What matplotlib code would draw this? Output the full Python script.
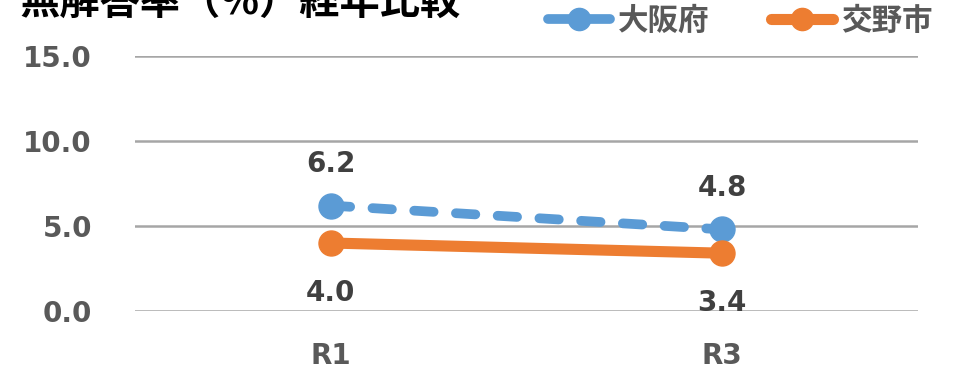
import numpy as np
import matplotlib
matplotlib.use("Agg")
import matplotlib.pyplot as plt

plt.rcParams['font.family'] = ['DejaVu Sans', 'Noto Sans CJK JP']
plt.rcParams['font.weight'] = 'bold'

# data
categories = ["R1", "R3"]
osaka = [6.2, 4.8]
katano = [4.0, 3.4]
series_names = ["大阪府", "交野市"]
title = "無解答率（%）経年比較"
yticks = [0.0, 5.0, 10.0, 15.0]

blue = "#5B9BD5"
orange = "#ED7D31"
tick_col = "#595959"
label_col = "#404040"
cjk = ['Noto Sans CJK JP', 'DejaVu Sans']

fig = plt.figure(figsize=(9.63, 3.73), dpi=100)
ax = fig.add_axes([135 / 963, 62 / 373, 783 / 963, 255 / 373])

x = np.arange(len(categories))

l1, = ax.plot(x, osaka, color=blue, lw=7, marker='o', ms=18,
              dashes=(2, 2.3), dash_capstyle='round', zorder=3)
l2, = ax.plot(x, katano, color=orange, lw=8, marker='o', ms=18,
              solid_capstyle='round', zorder=3)

for xi, v in zip(x, osaka):
    ax.annotate(f"{v:.1f}", (xi, v), xytext=(0, 30), textcoords='offset points',
                ha='center', va='center', fontsize=20, color=label_col, fontweight='bold')
for xi, v in zip(x, katano):
    ax.annotate(f"{v:.1f}", (xi, v), xytext=(0, -36), textcoords='offset points',
                ha='center', va='center', fontsize=20, color=label_col, fontweight='bold')

ax.set_xlim(-0.5, len(categories) - 0.5)
ax.set_ylim(0, 15)
ax.set_yticks(yticks)
ax.set_yticklabels([f"{t:.1f}" for t in yticks])
ax.set_xticks(x)
ax.set_xticklabels(categories)
ax.tick_params(axis='both', length=0, labelsize=20, labelcolor=tick_col)
ax.tick_params(axis='y', pad=31)
ax.tick_params(axis='x', pad=22)
for lab in ax.get_xticklabels() + ax.get_yticklabels():
    lab.set_fontweight('bold')

ax.grid(axis='y', color='#A6A6A6', lw=1.8)
ax.set_axisbelow(True)
for s in ax.spines.values():
    s.set_visible(False)

leg = fig.legend([l1, l2], series_names, loc='center', ncol=2,
                 bbox_to_anchor=(740 / 963, 1 - 21 / 373), frameon=False,
                 prop={'family': cjk, 'size': 22, 'weight': 'bold'},
                 handlelength=2.05, columnspacing=2.0, handletextpad=0.25,
                 borderaxespad=0)
for t in leg.get_texts():
    t.set_color(tick_col)
for h in leg.legend_handles:
    h.set_linestyle('-')
    h.set_solid_capstyle('round')
    h.set_markersize(16)

fig.text(20 / 963, 1 - 14 / 373, title, ha='left', va='baseline',
         fontsize=29, fontweight='bold', color='black', family=cjk)

fig.savefig("out.png", dpi=100)
